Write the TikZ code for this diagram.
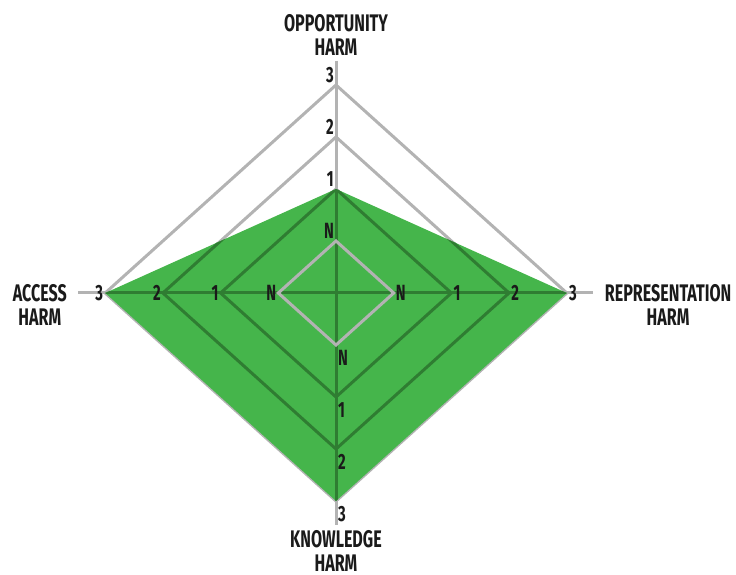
\documentclass[tikz,border=0pt]{standalone}
\usepackage{fontspec}
\newfontfamily\harmfont{Fira Sans}[FakeStretch=0.67]
\definecolor{gridgray}{HTML}{B3B3B3}
\definecolor{harmgreen}{HTML}{45B54B}
\definecolor{darkgreen}{HTML}{2F7D32}
\definecolor{labelblack}{HTML}{1A1A1A}
\tikzset{
	grid line/.style={draw=gridgray, line width=3pt},
	inner line/.style={draw=darkgreen, line width=3pt},
	level label/.style={font=\harmfont\bfseries\fontsize{22}{22}\selectfont, text=labelblack, inner sep=2pt},
	axis label/.style={font=\harmfont\bfseries\fontsize{24}{24}\selectfont, text=labelblack, align=center, inner sep=0pt},
}
\begin{document}
\begin{tikzpicture}[x=57.7pt,y=52pt]
		\useasboundingbox (-336pt,-282pt) rectangle (400pt,293pt);

		% axis ends
		\coordinate (oppEnd) at (0,4.47);
		\coordinate (knoEnd) at (0,-4.46);
		\coordinate (accEnd) at (-4.47,0);
		\coordinate (repEnd) at (4.45,0);

		% level points, N = 1 ... 3 = 4
		\foreach \r in {1,...,4} {
			\coordinate (t\r) at (0,\r);
			\coordinate (b\r) at (0,-\r);
			\coordinate (l\r) at (-\r,0);
			\coordinate (r\r) at (\r,0);
		}

		\foreach \r in {2,3,4}
			\draw[grid line] (t\r) -- (r\r) -- (b\r) -- (l\r) -- cycle;
		\draw[grid line] (oppEnd) -- (knoEnd);
		\draw[grid line] (accEnd) -- (repEnd);

		\fill[harmgreen] (l4) -- (t2) -- (r4) -- (b4) -- cycle;

		\begin{scope}
			\clip (l4) -- (t2) -- (r4) -- (b4) -- cycle;
			\draw[inner line] (oppEnd) -- (knoEnd);
			\draw[inner line] (accEnd) -- (repEnd);
			\foreach \r in {2,3}
				\draw[inner line] (t\r) -- (r\r) -- (b\r) -- (l\r) -- cycle;
		\end{scope}
		\draw[grid line] (t1) -- (r1) -- (b1) -- (l1) -- cycle;

		% level labels
		\foreach \r/\v in {1/N,2/1,3/2,4/3} {
			\node[level label, anchor=south east] (tl\r) at (t\r) {\v};
			\node[level label, anchor=east] (ll\r) at (l\r) {\v};
			\node[level label, anchor=west] (rl\r) at (r\r) {\v};
			\node[level label, anchor=north west] (bl\r) at ([yshift=-3pt]b\r) {\v};
		}

		% axis labels
		\node[axis label, anchor=south] (opp) at ([yshift=5pt]oppEnd) {OPPORTUNITY\\HARM};
		\node[axis label, anchor=north east] (acc) at ([xshift=-11pt,yshift=8.5pt]accEnd) {ACCESS\\HARM};
		\node[axis label, anchor=north west] (rep) at ([xshift=12pt,yshift=8.5pt]repEnd) {REPRESENTATION\\HARM};
		\node[axis label, anchor=north] (kno) at ([yshift=-5pt]knoEnd) {KNOWLEDGE\\HARM};
	\end{tikzpicture}
\end{document}
